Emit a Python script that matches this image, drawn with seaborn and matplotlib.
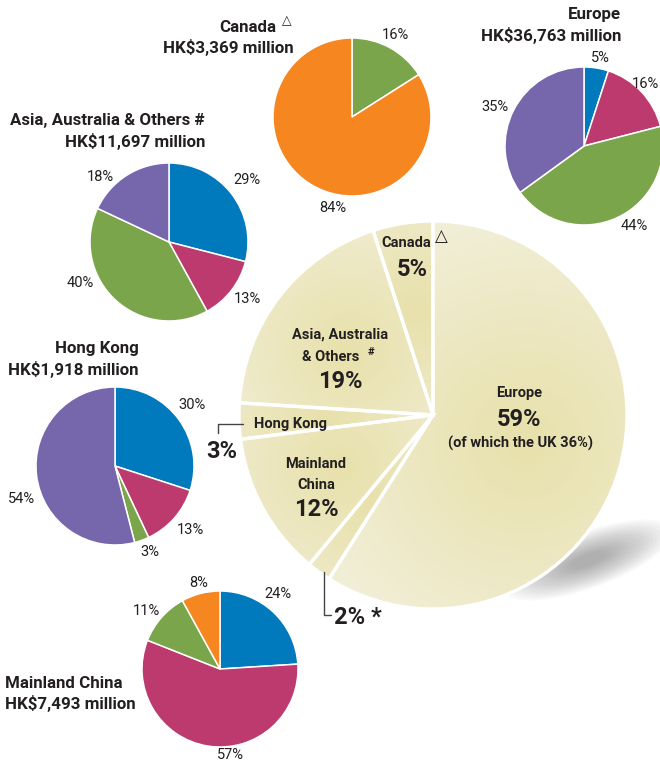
import numpy as np
import matplotlib
matplotlib.use("Agg")
import matplotlib.pyplot as plt
import seaborn as sns
from matplotlib.patches import Wedge, Ellipse

sns.set_theme(style="white")
FAM = ['Liberation Sans Narrow', 'Roboto', 'DejaVu Sans']
plt.rcParams['font.family'] = FAM
plt.rcParams['image.composite_image'] = False

# ---------------- data ----------------
overall_regions = ["Europe", "Others *", "Mainland China", "Hong Kong",
                   "Asia, Australia & Others #", "Canada"]
overall_share = [59, 2, 12, 3, 19, 5]

canada_share = [16, 84]
europe_share = [5, 16, 44, 35]
asia_share = [29, 13, 40, 18]
hk_share = [30, 13, 3, 54]
china_share = [24, 57, 11, 8]

canada_title = ["Canada", "HK$3,369 million"]
europe_title = ["Europe", "HK$36,763 million"]
asia_title = ["Asia, Australia & Others #", "HK$11,697 million"]
hk_title = ["Hong Kong", "HK$1,918 million"]
china_title = ["Mainland China", "HK$7,493 million"]

pal = sns.color_palette(["#0079BD", "#BC3A6E", "#7BA54B", "#7667AD", "#F58620"])
BLUE, MAG, GREEN, PURP, ORANGE = pal
TXT = "#231F20"

W, H = 660, 764
fig = plt.figure(figsize=(W / 100, H / 100), dpi=100)
ax = fig.add_axes([0, 0, 1, 1])


def Y(y):
    return H - y


def small_pie(vals, cols, cx, cy, r):
    ax.pie(vals, colors=cols, startangle=90, counterclock=False,
           center=(cx, Y(cy)), radius=r, frame=True,
           wedgeprops=dict(edgecolor="white", linewidth=1.1))


def lab(x, y, s, size=10, weight="normal", ha="center", va="center"):
    ax.text(x, Y(y), s, fontsize=size, fontweight=weight, ha=ha, va=va,
            color=TXT, family=FAM, zorder=5)


def tri(x, y, size=10):
    ax.text(x, Y(y), "\u25b3", fontsize=size, ha="center", va="center",
            color=TXT, family=['DejaVu Sans'], zorder=5)


# ---------------- soft shadow under the big pie (stacked ellipses) ----------------
for s in np.linspace(1.0, 0.2, 18):
    ax.add_patch(Ellipse((588, Y(560)), width=180 * s, height=56 * s, angle=20,
                         facecolor="#5a5a5a", edgecolor="none", alpha=0.03,
                         zorder=0.5))

# ---------------- big pie ----------------
BCX, BCY, BR = 433, 415, 194
wedges, _ = ax.pie(overall_share, colors=["#EEEAD0"] * len(overall_share),
                   startangle=90, counterclock=False, center=(BCX, Y(BCY)),
                   radius=BR, frame=True,
                   wedgeprops=dict(edgecolor="white", linewidth=0))
for w in wedges:
    w.set_zorder(1)

c_in = np.array([232, 225, 172]) / 255
c_out = np.array([241, 238, 214]) / 255
ext = (BCX - BR, BCX + BR, Y(BCY + BR), Y(BCY - BR))
gxx, gyy = np.meshgrid(np.linspace(BCX - BR, BCX + BR, 400),
                       np.linspace(BCY - BR, BCY + BR, 400))
for w, share in zip(wedges, overall_share):
    mid = np.deg2rad((w.theta1 + w.theta2) / 2)
    frac = 0.5 if share > 30 else 0.55
    gcx = BCX + frac * BR * np.cos(mid)
    gcy = BCY - frac * BR * np.sin(mid)
    R = 220 if share > 30 else 150
    d = np.hypot(gxx - gcx, gyy - gcy)
    t = np.clip(d / R, 0, 1) ** 1.1
    img = c_in[None, None, :] * (1 - t[..., None]) + c_out[None, None, :] * t[..., None]
    im = ax.imshow(img, extent=ext, origin="upper", zorder=1.5,
                   interpolation="bilinear")
    im.set_clip_path(w)
    ax.add_patch(Wedge(w.center, w.r, w.theta1, w.theta2, fill=False,
                       edgecolor="white", linewidth=2.4, zorder=2))

# ---------------- small pies ----------------
small_pie(canada_share, [GREEN, ORANGE], 352, 117, 79)
small_pie(europe_share, [BLUE, MAG, GREEN, PURP], 584, 146, 79)
small_pie(asia_share, [BLUE, MAG, GREEN, PURP], 169, 242, 79)
small_pie(hk_share, [BLUE, MAG, GREEN, PURP], 115, 466, 79)
small_pie(china_share, [BLUE, MAG, GREEN, ORANGE], 220, 669, 78)

# ---------------- titles ----------------
TS = 12.2
lab(276, 28, canada_title[0], TS, "bold", ha="right")
tri(287, 21, 9)
lab(294, 48, canada_title[1], TS, "bold", ha="right")
lab(621, 15, europe_title[0], TS, "bold", ha="right")
lab(621, 36, europe_title[1], TS, "bold", ha="right")
lab(205, 120, asia_title[0], TS, "bold", ha="right")
lab(205, 142, asia_title[1], TS, "bold", ha="right")
lab(139, 349, hk_title[0], TS, "bold", ha="right")
lab(139, 370, hk_title[1], TS, "bold", ha="right")
lab(5, 683, china_title[0], TS, "bold", ha="left")
lab(5, 703, china_title[1], TS, "bold", ha="left")

# ---------------- small pie labels ----------------
PS = 10.5
for (x, y), v in zip([(395, 35), (333, 208)], canada_share):
    lab(x, y, f"{v}%", PS)
for (x, y), v in zip([(600, 58), (659, 84), (634, 226), (495, 107)], europe_share):
    lab(x, y, f"{v}%", PS, ha=("right" if v == 16 else "center"))
for (x, y), v in zip([(247, 180), (247, 299), (80, 283), (100, 177)], asia_share):
    lab(x, y, f"{v}%", PS)
for (x, y), v in zip([(192, 405), (190, 530), (150, 552), (22, 499)], hk_share):
    lab(x, y, f"{v}%", PS)
for (x, y), v in zip([(278, 594), (230, 755), (146, 611), (199, 583)], china_share):
    lab(x, y, f"{v}%", PS)

# ---------------- big pie labels ----------------
LS, NS = 10.5, 17
lab(406, 243, "Canada", LS, "bold")
tri(441, 236, 12)
lab(412, 270, f"{overall_share[5]}%", NS, "bold")
lab(340, 335, "Asia, Australia", LS, "bold")
lab(331, 357, "& Others", LS, "bold")
lab(371, 352, "#", 8, "bold")
lab(340, 382, f"{overall_share[4]}%", NS, "bold")
lab(519, 393, "Europe", LS, "bold")
lab(519, 419, f"{overall_share[0]}%", NS, "bold")
lab(520, 443, "(of which the UK 36%)", LS, "bold")
lab(254, 424, "Hong Kong", LS, "bold", ha="left")
lab(316, 464, "Mainland", LS, "bold")
lab(316, 485, "China", LS, "bold")
lab(316, 510, f"{overall_share[2]}%", NS, "bold")
lab(222, 451, f"{overall_share[3]}%", NS, "bold")
lab(334, 617, f"{overall_share[1]}% *", NS, "bold", ha="left")

# leader lines
ax.plot([218, 218, 243], [Y(433), Y(424), Y(424)], color="#444444", lw=1, zorder=3)
ax.plot([324, 324, 331], [Y(572), Y(615), Y(615)], color="#444444", lw=1, zorder=3)

ax.set_xlim(0, W)
ax.set_ylim(0, H)
ax.set_aspect("auto")
ax.axis("off")
fig.savefig("out.png", dpi=100, facecolor="white")
